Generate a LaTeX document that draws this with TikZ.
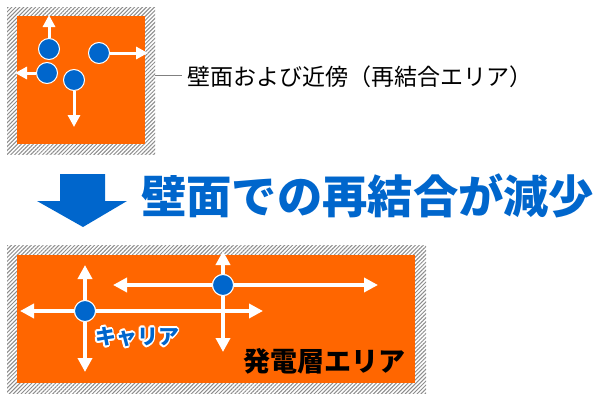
\documentclass[tikz,border=0pt]{standalone}
\usepackage{fontspec}
\newfontfamily\jpfont{Noto Sans CJK JP}
\usetikzlibrary{arrows.meta,patterns.meta}
\definecolor{layerOrange}{RGB}{255,102,0}
\definecolor{carrierBlue}{RGB}{0,102,204}
\providecommand{\wallHatchColor}{black!45}
\providecommand{\moveLineWidth}{3.6pt}
\begin{document}
\begin{tikzpicture}[x=1pt, y=-1pt, line join=round,
  wallHatch/.style={pattern={Lines[angle=45,distance=2.8pt,line width=1pt]}, pattern color=\wallHatchColor},
  carrierDot/.style={circle, fill=carrierBlue, draw=white, line width=1pt, minimum size=21pt, inner sep=0pt},
  moveArrow/.style={draw=white, line width=\moveLineWidth, -{Triangle[length=14pt,width=14pt]}},
  smallArrow/.style={draw=white, line width=3pt, -{Triangle[length=12pt,width=12pt]}},
  labelText/.style={inner sep=0pt, anchor=west, font=\jpfont}]
\useasboundingbox (0,0) rectangle (600,415);
% Upper wall area
\begin{scope}
  \fill[white] (7,7) rectangle (155,154);
  \fill[wallHatch] (7,7) rectangle (155,154);
  \fill[layerOrange] (17,16) rectangle (145,144);
  \node[carrierDot] (dotOne) at (49,49) {};
  \node[carrierDot] (dotTwo) at (99,53) {};
  \node[carrierDot] (dotThree) at (47,73) {};
  \node[carrierDot] (dotFour) at (74,80) {};
  \coordinate (tipOne) at (49,15);
  \coordinate (tipTwo) at (148,53);
  \coordinate (tipThree) at (15,73);
  \coordinate (tipFour) at (74,127);
  \draw[smallArrow] (dotOne) -- (tipOne);
  \draw[smallArrow] (dotTwo) -- (tipTwo);
  \draw[smallArrow] (dotThree) -- (tipThree);
  \draw[smallArrow] (dotFour) -- (tipFour);
\end{scope}
% Leader and caption
\coordinate (wallEdge) at (155,75);
\node[labelText, font=\jpfont\fontsize{23}{23}\selectfont] (wallLabel) at (187,77) {壁面および近傍（再結合エリア）};
\draw[black!50, line width=0.8pt] (wallEdge) -- ([xshift=-5pt]wallLabel.west |- wallEdge);
% Big arrow and message
\fill[carrierBlue] (60,174) -- (105,174) -- (105,201) -- (127,201) -- (83,227)
  -- (37,201) -- (60,201) -- cycle;
\node[labelText, text=carrierBlue, font=\jpfont\bfseries\fontsize{45.3}{45.3}\selectfont]
  (mainMessage) at (141,196) {壁面での再結合が減少};
% Lower generation layer
\begin{scope}
  \fill[white] (7,245) rectangle (426,393);
  \fill[wallHatch] (7,245) rectangle (426,393);
  \fill[layerOrange] (17,255) rectangle (415,383);
  \node[carrierDot] (dotA) at (85,311) {};
  \node[carrierDot] (dotB) at (223,285) {};
  \coordinate (upA) at (85,265);
  \coordinate (downA) at (85,372);
  \coordinate (leftA) at (20,311);
  \coordinate (rightA) at (263,311);
  \coordinate (upB) at (223,251);
  \coordinate (downB) at (223,352);
  \coordinate (leftB) at (113,285);
  \coordinate (rightB) at (378,285);
  \foreach \tip in {upA,downA,leftA,rightA}
    \draw[moveArrow] (dotA) -- (\tip);
  \foreach \tip in {upB,downB,leftB,rightB}
    \draw[moveArrow] (dotB) -- (\tip);
  % dots drawn again over the crossing lines
  \node[carrierDot] (dotAtop) at (dotA) {};
  \node[carrierDot] (dotBtop) at (dotB) {};
  % carrier label with white halo
  \foreach \a in {0,30,...,330}
    \node[text=white, inner sep=0pt, font=\jpfont\bfseries\fontsize{21}{21}\selectfont]
      (carrierHalo\a) at ([shift={(\a:1.8pt)}]137,337) {キャリア};
  \node[text=carrierBlue, inner sep=0pt, font=\jpfont\bfseries\fontsize{21}{21}\selectfont]
    (carrierLabel) at (137,337) {キャリア};
  \node[labelText, font=\jpfont\bfseries\fontsize{27}{27}\selectfont]
    (layerLabel) at (243,361) {発電層エリア};
\end{scope}
\end{tikzpicture}
\end{document}
